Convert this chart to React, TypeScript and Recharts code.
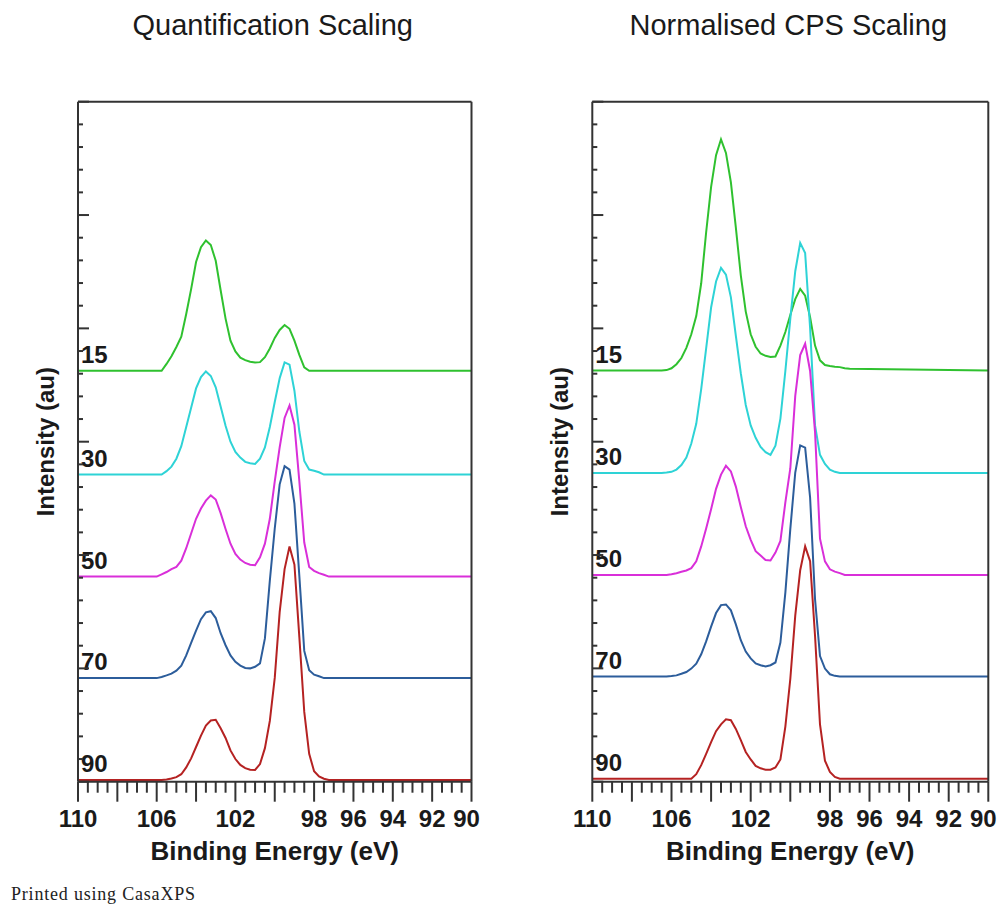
import React from "react";
import { Line, LineChart, ReferenceDot, XAxis, YAxis } from "recharts";

// binding energy sample points (eV), shared by every trace
const ENERGY = [
  110, 106.5, 106.25, 106, 105.75, 105.5, 105.25, 105, 104.75, 104.5, 104.25,
  104, 103.75, 103.5, 103.25, 103, 102.75, 102.5, 102.25, 102, 101.75, 101.5,
  101.25, 101, 100.75, 100.5, 100.25, 100, 99.75, 99.5, 99.25, 99, 98.75, 98.5,
  98.25, 98, 97.75, 97.5, 97.25, 97, 90,
];

const ANGLES = ["15", "30", "50", "70", "90"];
const COLORS = ["#2fc12f", "#2ed3d6", "#d92fd9", "#2c5d9b", "#b52222"];
const X_LABELS = [110, 106, 102, 98, 96, 94, 92, 90];

// Quantification Scaling (height above each trace's baseline)
const QUANT_15 = [0, 0, 0, 0, 0, 0.3, 0.64, 1.05, 1.5, 2.5, 3.6, 4.8, 5.45, 5.75, 5.55, 4.85, 3.55, 2.3, 1.33, 0.85, 0.58, 0.47, 0.4, 0.36, 0.38, 0.6, 0.98, 1.45, 1.8, 2.02, 1.85, 1.33, 0.7, 0.15, 0, 0, 0, 0, 0, 0, 0];
const QUANT_30 = [0, 0, 0, 0, 0, 0.15, 0.35, 0.7, 1.25, 2.1, 2.95, 3.8, 4.3, 4.55, 4.35, 3.85, 3.0, 2.15, 1.45, 1.0, 0.75, 0.56, 0.5, 0.47, 0.7, 1.2, 2.1, 3.2, 4.25, 4.95, 4.85, 3.7, 1.9, 0.6, 0.22, 0.17, 0.1, 0, 0, 0, 0];
const QUANT_50 = [0, 0, 0, 0, 0.1, 0.2, 0.33, 0.43, 0.7, 1.25, 1.9, 2.55, 3.0, 3.35, 3.58, 3.4, 2.8, 2.1, 1.45, 1.0, 0.75, 0.6, 0.52, 0.5, 0.85, 1.45, 2.55, 4.2, 5.7, 7.0, 7.55, 6.7, 4.2, 1.5, 0.42, 0.25, 0.15, 0.08, 0, 0, 0];
const QUANT_70 = [0, 0, 0, 0, 0.05, 0.12, 0.2, 0.33, 0.55, 1.0, 1.55, 2.1, 2.6, 2.9, 2.95, 2.65, 1.98, 1.45, 1.0, 0.72, 0.55, 0.45, 0.43, 0.5, 0.65, 1.75, 4.3, 6.6, 8.55, 9.35, 9.2, 7.7, 4.5, 1.2, 0.35, 0.15, 0.08, 0, 0, 0, 0];
const QUANT_90 = [0, 0, 0, 0, 0, 0.02, 0.06, 0.12, 0.25, 0.55, 0.95, 1.45, 1.95, 2.4, 2.62, 2.65, 2.28, 1.85, 1.3, 0.92, 0.66, 0.52, 0.45, 0.44, 0.7, 1.4, 2.6, 4.5, 7.4, 9.3, 10.3, 9.5, 6.3, 3.0, 1.15, 0.38, 0.15, 0.05, 0, 0, 0];
const QUANT_OFFSETS = [18.13, 13.55, 9.05, 4.57, 0.08];

// Normalised CPS Scaling
const NORM_15 = [0, 0, 0.02, 0.1, 0.28, 0.55, 1.0, 1.6, 2.4, 3.85, 6.1, 8.1, 9.5, 10.2, 9.6, 8.3, 6.3, 4.2, 2.6, 1.6, 1.05, 0.75, 0.65, 0.6, 0.62, 1.1, 1.7, 2.45, 3.15, 3.6, 3.3, 2.35, 1.1, 0.45, 0.24, 0.2, 0.17, 0.15, 0.1, 0.08, 0];
const NORM_30 = [0, 0, 0.02, 0.05, 0.15, 0.35, 0.68, 1.3, 2.17, 3.7, 5.5, 7.3, 8.45, 9.05, 8.75, 7.75, 6.05, 4.4, 3.0, 2.1, 1.55, 1.15, 0.92, 0.8, 1.2, 2.4, 4.5, 6.8, 8.9, 10.15, 9.7, 6.4, 2.1, 0.8, 0.4, 0.15, 0.05, 0, 0, 0, 0];
const NORM_50 = [0, 0, 0, 0.03, 0.08, 0.14, 0.2, 0.3, 0.6, 1.26, 2.05, 2.9, 3.8, 4.43, 4.82, 4.57, 3.9, 3.0, 2.15, 1.55, 1.05, 0.86, 0.66, 0.64, 0.99, 1.5, 3.2, 4.7, 7.9, 9.7, 10.2, 9.0, 6.3, 1.6, 0.6, 0.25, 0.15, 0.08, 0, 0, 0];
const NORM_70 = [0, 0, 0, 0.02, 0.05, 0.12, 0.2, 0.35, 0.57, 0.98, 1.55, 2.2, 2.8, 3.15, 3.18, 2.92, 2.3, 1.6, 1.1, 0.8, 0.58, 0.5, 0.44, 0.5, 0.62, 1.5, 3.7, 6.5, 9.0, 10.2, 10.1, 7.9, 3.4, 0.9, 0.35, 0.1, 0.03, 0, 0, 0, 0];
const NORM_90 = [0, 0, 0, 0, 0, 0, 0, 0, 0.2, 0.6, 1.1, 1.62, 2.1, 2.4, 2.62, 2.58, 2.2, 1.7, 1.18, 0.85, 0.57, 0.46, 0.4, 0.4, 0.5, 0.85, 2.3, 4.4, 7.2, 9.2, 10.25, 9.6, 6.3, 2.4, 0.8, 0.3, 0.08, 0, 0, 0, 0];
const NORM_OFFSETS = [18.14, 13.62, 9.12, 4.64, 0.13];

const SANS = '"Liberation Sans", Arial, sans-serif';
const INK = "#333";

const X_TICKS = Array.from({ length: 41 }, (_, i) => 110 - i * 0.5);
const Y_TICKS = Array.from({ length: 31 }, (_, i) => i);

const buildRows = (series: number[][], offsets: number[]) =>
  ENERGY.map((e, i) => {
    const row: Record<string, number> = { e };
    series.forEach((s, k) => {
      row[`s${k}`] = offsets[k] + s[i];
    });
    return row;
  });

const quantRows = buildRows([QUANT_15, QUANT_30, QUANT_50, QUANT_70, QUANT_90], QUANT_OFFSETS);
const normRows = buildRows([NORM_15, NORM_30, NORM_50, NORM_70, NORM_90], NORM_OFFSETS);

const box = (p: any) => p.viewBox ?? { x: p.x, y: p.y, width: p.width, height: p.height };

const XTick = (props: any) => {
  const { x, y, payload } = props;
  const v = payload.value;
  const major = Math.abs(v % 2) < 1e-6;
  return (
    <g>
      <line x1={x} x2={x} y1={y} y2={y + (major ? 20 : 11)} stroke={INK} strokeWidth={2} />
      {X_LABELS.includes(v) && (
        <text x={x + (v === 90 ? -5 : 0)} y={y + 45} textAnchor="middle" fontFamily={SANS} fontWeight="bold" fontSize={24} fill="#1a1a1a">
          {v}
        </text>
      )}
    </g>
  );
};

const LeftTick = (props: any) => {
  const { x, y, payload } = props;
  const len = payload.value % 5 === 0 ? 11 : 5;
  return <line x1={x} x2={x + len} y1={y} y2={y} stroke={INK} strokeWidth={2} />;
};

const RightTick = (props: any) => {
  const { x, y, payload } = props;
  const len = payload.value % 5 === 0 ? 11 : 5;
  return <line x1={x} x2={x - len} y1={y} y2={y} stroke={INK} strokeWidth={2} />;
};

type PanelProps = {
  title: string;
  rows: Record<string, number>[];
  offsets: number[];
  left: number;
  width: number;
  margin: { top: number; right: number; bottom: number; left: number };
};

// axes are 1px thick so that recharts still draws them
const Panel = ({ title, rows, offsets, left, width, margin }: PanelProps) => (
  <div style={{ position: "absolute", left, top: 0 }}>
    <LineChart width={width} height={905} data={rows} margin={margin}>
      <XAxis
        xAxisId="b"
        dataKey="e"
        type="number"
        domain={[90, 110]}
        reversed
        ticks={X_TICKS}
        interval={0}
        height={1}
        tickSize={0}
        tickMargin={0}
        tickLine={false}
        tick={<XTick />}
        axisLine={{ stroke: INK, strokeWidth: 2 }}
        label={(p: any) => {
          const vb = box(p);
          return (
            <text x={vb.x + vb.width / 2} y={vb.y + 78} textAnchor="middle" fontFamily={SANS} fontWeight="bold" fontSize={26} fill="#1a1a1a">
              Binding Energy (eV)
            </text>
          );
        }}
      />
      <XAxis
        xAxisId="t"
        orientation="top"
        dataKey="e"
        type="number"
        domain={[90, 110]}
        reversed
        height={1}
        tick={false}
        tickLine={false}
        axisLine={{ stroke: INK, strokeWidth: 2 }}
        label={(p: any) => {
          const vb = box(p);
          return (
            <text x={vb.x + vb.width / 2 - 2} y={vb.y - 66} textAnchor="middle" fontFamily={SANS} fontSize={29} fill="#1a1a1a">
              {title}
            </text>
          );
        }}
      />
      <YAxis
        yAxisId="l"
        type="number"
        domain={[0, 30]}
        ticks={Y_TICKS}
        interval={0}
        width={1}
        tickSize={0}
        tickMargin={0}
        tickLine={false}
        tick={<LeftTick />}
        axisLine={{ stroke: INK, strokeWidth: 2 }}
        label={(p: any) => {
          const vb = box(p);
          const cx = vb.x + (vb.width || 0) - 24;
          const cy = vb.y + vb.height / 2;
          return (
            <text x={cx} y={cy} transform={`rotate(-90, ${cx}, ${cy})`} textAnchor="middle" fontFamily={SANS} fontWeight="bold" fontSize={24} fill="#1a1a1a">
              Intensity (au)
            </text>
          );
        }}
      />
      <YAxis
        yAxisId="r"
        orientation="right"
        type="number"
        domain={[0, 30]}
        ticks={Y_TICKS}
        interval={0}
        width={1}
        tickSize={0}
        tickMargin={0}
        tickLine={false}
        tick={<RightTick />}
        axisLine={{ stroke: INK, strokeWidth: 2 }}
      />
      {ANGLES.map((a, k) => (
        <Line
          key={a}
          xAxisId="b"
          yAxisId="l"
          type="linear"
          dataKey={`s${k}`}
          stroke={COLORS[k]}
          strokeWidth={2}
          dot={false}
          isAnimationActive={false}
        />
      ))}
      {ANGLES.map((a, k) => (
        <ReferenceDot
          key={`tag-${a}`}
          xAxisId="b"
          yAxisId="l"
          x={110}
          y={offsets[k]}
          r={0}
          fill="none"
          stroke="none"
          label={(p: any) => {
            const vb = box(p);
            return (
              <text x={vb.x + 3} y={vb.y - 8} fontFamily={SANS} fontWeight="bold" fontSize={24} fill="#1a1a1a">
                {a}
              </text>
            );
          }}
        />
      ))}
    </LineChart>
  </div>
);

export default function App() {
  return (
    <div style={{ position: "absolute", left: 0, top: 0, width: 1003, height: 905, background: "#fff" }}>
      <Panel
        title="Quantification Scaling"
        rows={quantRows}
        offsets={QUANT_OFFSETS}
        left={0}
        width={500}
        margin={{ top: 100.7, right: 27.5, bottom: 122.3, left: 77 }}
      />
      <Panel
        title="Normalised CPS Scaling"
        rows={normRows}
        offsets={NORM_OFFSETS}
        left={500}
        width={503}
        margin={{ top: 100.7, right: 13.7, bottom: 122.3, left: 91.3 }}
      />
      <div
        style={{
          position: "absolute",
          left: 11,
          top: 885,
          fontFamily: '"Liberation Serif", "Times New Roman", serif',
          fontSize: 18,
          lineHeight: "18px",
          letterSpacing: 0.8,
          color: "#222",
          whiteSpace: "nowrap",
        }}
      >
        Printed using CasaXPS
      </div>
    </div>
  );
}
